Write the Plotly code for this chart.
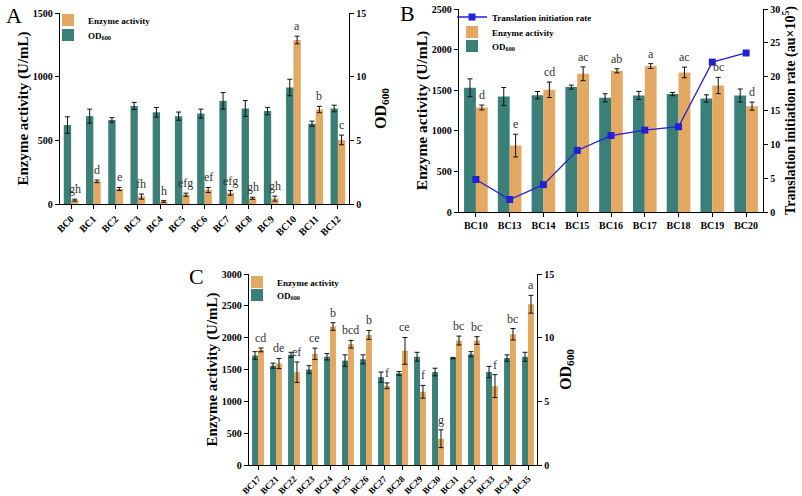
import plotly.graph_objects as go

# ---- data ----
a_strains = ["BC0", "BC1", "BC2", "BC3", "BC4", "BC5", "BC6", "BC7", "BC8", "BC9", "BC10", "BC11", "BC12"]
a_enzyme = [30, 178, 118, 58, 20, 73, 110, 87, 45, 42, 1288, 742, 503]
a_enzyme_err = [8, 10, 12, 20, 7, 12, 20, 18, 8, 20, 30, 25, 38]
a_od = [6.2, 6.9, 6.6, 7.7, 7.2, 6.9, 7.1, 8.1, 7.5, 7.3, 9.15, 6.3, 7.5]
a_od_err = [0.65, 0.55, 0.18, 0.28, 0.38, 0.32, 0.35, 0.65, 0.62, 0.29, 0.65, 0.21, 0.26]
a_letters = ["gh", "d", "e", "fh", "h", "efg", "ef", "efg", "gh", "gh", "a", "b", "c"]

b_strains = ["BC10", "BC13", "BC14", "BC15", "BC16", "BC17", "BC18", "BC19", "BC20"]
b_enzyme = [1287, 818, 1505, 1702, 1739, 1797, 1719, 1558, 1303]
b_enzyme_err = [30, 140, 95, 85, 25, 30, 65, 100, 50]
b_od = [1530, 1423, 1439, 1538, 1406, 1435, 1452, 1398, 1435]
b_od_err = [110, 110, 45, 25, 50, 50, 20, 45, 80]
b_tir = [4.8, 1.85, 4.05, 9.1, 11.3, 12.1, 12.6, 22.15, 23.5]
b_letters = ["d", "e", "cd", "ac", "ab", "a", "ac", "bc", "d"]

c_strains = ["BC17", "BC21", "BC22", "BC23", "BC24", "BC25", "BC26", "BC27",
             "BC28", "BC29", "BC30", "BC31", "BC32", "BC33", "BC34", "BC35"]
c_enzyme = [1808, 1594, 1458, 1746, 2175, 1897, 2043, 1244, 1793, 1150, 413, 1955, 1955, 1239, 2054, 2525]
c_enzyme_err = [30, 80, 160, 90, 60, 60, 70, 45, 210, 100, 140, 70, 60, 180, 90, 140]
c_od = [8.6, 7.8, 8.65, 7.5, 8.5, 8.2, 8.3, 6.9, 7.2, 8.5, 7.3, 8.4, 8.7, 7.3, 8.4, 8.5]
c_od_err = [0.3, 0.2, 0.2, 0.3, 0.25, 0.45, 0.35, 0.4, 0.15, 0.35, 0.3, 0.05, 0.2, 0.45, 0.25, 0.35]
c_letters = ["cd", "de", "ef", "ce", "b", "bcd", "b", "f", "ce", "f", "g", "bc", "bc", "f", "bc", "a"]

TEAL = "#3b7f79"
ORANGE = "#e3a862"
BLUE = "#2222d4"
FONT = "Liberation Serif"
W = 802
H = 496

fig = go.Figure()


def err(arr):
    return dict(type="data", array=arr, color="#111", thickness=1, width=2.5)


def add_panel(cats, od, od_err, enz, enz_err, xa, y_od, y_enz, leg_od, leg_enz, bar_w):
    fig.add_trace(go.Bar(
        x=cats, y=od, error_y=err(od_err), name="OD<sub>600</sub>",
        marker=dict(color=TEAL, line_width=0), width=bar_w, offset=-bar_w,
        xaxis=xa, yaxis=y_od, legend=leg_od,
    ))
    fig.add_trace(go.Bar(
        x=cats, y=enz, error_y=err(enz_err), name="Enzyme activity",
        marker=dict(color=ORANGE, line_width=0), width=bar_w, offset=0,
        xaxis=xa, yaxis=y_enz, legend=leg_enz,
    ))


def add_letters(enz, enz_err, letters, xref, yref, bar_w):
    for i, (v, e, t) in enumerate(zip(enz, enz_err, letters)):
        fig.add_annotation(
            x=i + bar_w / 2, y=v + e, xref=xref, yref=yref, text=t,
            showarrow=False, xanchor="center", yanchor="bottom", yshift=1,
            font=dict(family=FONT, size=12, color="#333"),
        )


# Panel A
add_panel(a_strains, a_od, a_od_err, a_enzyme, a_enzyme_err, "x", "y2", "y", "legend2", "legend", 0.33)
add_letters(a_enzyme, a_enzyme_err, a_letters, "x", "y", 0.33)

# Panel B
add_panel(b_strains, b_od, b_od_err, b_enzyme, b_enzyme_err, "x2", "y3", "y3", "legend5", "legend4", 0.35)
fig.add_trace(go.Scatter(
    x=b_strains, y=b_tir, mode="lines+markers", name="Translation initiation rate",
    line=dict(color=BLUE, width=1.3), marker=dict(symbol="square", size=7, color=BLUE),
    xaxis="x2", yaxis="y4", legend="legend3",
))
add_letters(b_enzyme, b_enzyme_err, b_letters, "x2", "y3", 0.35)

# Panel C
add_panel(c_strains, c_od, c_od_err, c_enzyme, c_enzyme_err, "x3", "y6", "y5", "legend7", "legend6", 0.33)
add_letters(c_enzyme, c_enzyme_err, c_letters, "x3", "y5", 0.33)


def xaxis(domain, anchor, n, angle, size=10):
    return dict(
        domain=domain, anchor=anchor, range=[-0.5, n - 0.5], type="category",
        showline=True, linecolor="black", linewidth=1.3, ticks="outside",
        ticklen=4, tickcolor="black", tickwidth=1.2, tickangle=angle,
        tickfont=dict(family=FONT, size=size, color="black", weight="bold"),
        showgrid=False, zeroline=False, automargin=False,
    )


def yaxis(domain, anchor, rng, dtick, title, side="left", overlay=None, size=15, standoff=0):
    d = dict(
        domain=domain, anchor=anchor, range=rng, dtick=dtick, side=side,
        showline=True, linecolor="black", linewidth=1.3, ticks="outside",
        ticklen=4, tickcolor="black", tickwidth=1.2,
        tickfont=dict(family=FONT, size=10, color="black", weight="bold"),
        showgrid=False, zeroline=False, automargin=False,
        title=dict(text=title, font=dict(family=FONT, size=size, color="black", weight="bold"),
                   standoff=standoff),
    )
    if overlay:
        d["overlaying"] = overlay
    return d


ax_dom = [60 / W, 349 / W]
ay_dom = [1 - 204 / H, 1 - 13 / H]
bx_dom = [459 / W, 763 / W]
by_dom = [1 - 212 / H, 1 - 9 / H]
cx_dom = [249 / W, 537 / W]
cy_dom = [1 - 465 / H, 1 - 274 / H]

legend_font = dict(family=FONT, size=9, color="black", weight="bold")


def legend(px, py):
    # one legend per entry so the rows can sit as tight as in the reference
    return dict(x=px / W, y=1 - py / H, xanchor="left", yanchor="middle", font=legend_font,
                bgcolor="rgba(0,0,0,0)", itemwidth=30, borderwidth=0)


fig.update_layout(
    width=W, height=H, autosize=False,
    margin=dict(l=0, r=0, t=0, b=0, pad=0),
    paper_bgcolor="white", plot_bgcolor="rgba(0,0,0,0)",
    barmode="overlay", showlegend=True,
    xaxis=xaxis(ax_dom, "y", len(a_strains), -45),
    yaxis=yaxis(ay_dom, "x", [0, 1500], 500, "Enzyme activity (U/mL)"),
    yaxis2=yaxis(ay_dom, "x", [0, 15], 5, "OD<sub>600</sub>", side="right", overlay="y", size=16, standoff=9),
    xaxis2=xaxis(bx_dom, "y3", len(b_strains), 0),
    yaxis3=yaxis(by_dom, "x2", [0, 2500], 500, "Enzyme activity (U/mL)", size=15.5),
    yaxis4=yaxis(by_dom, "x2", [0, 30], 5, "Translation initiation rate (au×10<sup>5</sup>)",
                 side="right", overlay="y3", size=14, standoff=5),
    xaxis3=xaxis(cx_dom, "y5", len(c_strains), -45, size=9),
    yaxis5=yaxis(cy_dom, "x3", [0, 3000], 500, "Enzyme activity (U/mL)"),
    yaxis6=yaxis(cy_dom, "x3", [0, 15], 5, "OD<sub>600</sub>", side="right", overlay="y5", size=16, standoff=6),
    legend=legend(48, 20),
    legend2=legend(48, 35),
    legend3=legend(452, 17),
    legend4=legend(452, 32),
    legend5=legend(452, 46),
    legend6=legend(237, 282),
    legend7=legend(237, 295),
)

# panel labels
for label, px, py in [("A", 14, 15), ("B", 407, 14), ("C", 196, 276)]:
    fig.add_annotation(
        x=px / W, y=1 - py / H, xref="paper", yref="paper", text=label,
        showarrow=False, xanchor="center", yanchor="middle",
        font=dict(family=FONT, size=22, color="black"),
    )

fig.write_html("out.html", config={"displayModeBar": False},
               post_script="document.body.style.margin='0';")
